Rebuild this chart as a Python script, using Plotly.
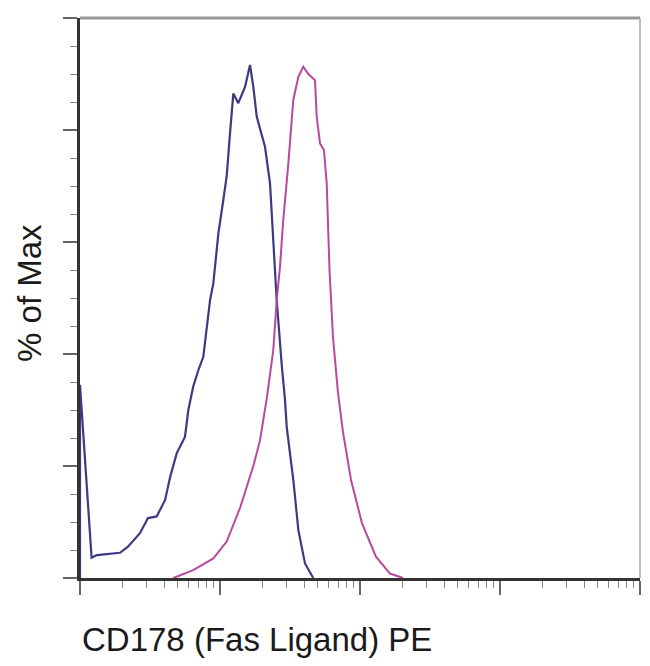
import plotly.graph_objects as go

# Blue (isotype / control) histogram: fluorescence intensity vs % of max
blue_x = [10, 10, 12.1, 13.2, 19.3, 22.0, 26.8, 30.6, 35.3, 40.5, 44.0, 49.1, 56.2, 59.4,
          64.4, 70.0, 76.0, 80.4, 84.9, 89.6, 97.3, 105.6, 111.6, 117.9, 124.5, 135.1,
          150.9, 163.8, 173.0, 182.9, 193.1, 209.6, 227.6, 233.9, 254.1, 276.1, 291.3,
          299.5, 334.0, 362.6, 404.6, 463.5]
blue_y = [0, 34.5, 3.6, 4.1, 4.5, 5.6, 8.0, 10.7, 11.0, 13.9, 18.0, 22.3, 25.2, 30.0,
          34.2, 37.1, 39.5, 44.9, 49.6, 52.6, 61.5, 67.5, 71.7, 79.4, 86.5, 84.8,
          87.7, 91.6, 87.7, 82.4, 80.3, 77.0, 70.5, 65.7, 49.6, 38.0, 31.8,
          27.0, 17.5, 8.6, 2.6, 0]

# Magenta (CD178 stained) histogram
mag_x = [46.4, 64.4, 89.6, 111.6, 139.0, 173.0, 193.1, 215.6, 240.2, 254.1, 268.3,
         283.2, 307.6, 334.0, 362.6, 393.7, 427.3, 477.1, 490.6, 517.9, 553.1, 578.2,
         605.6, 641.3, 696.6, 756.4, 862.7, 1033, 1300, 1638, 2029]
mag_y = [0, 1.4, 3.5, 6.5, 12.5, 20.0, 24.6, 32.0, 40.7, 49.6, 55.6,
         64.0, 74.0, 85.4, 89.5, 91.3, 90.0, 88.9, 82.4, 77.6, 76.4, 70.5,
         55.0, 43.0, 33.0, 26.0, 17.5, 9.8, 3.8, 0.8, 0]

x_major = [10, 100, 1000, 10000, 100000]
x_minor = [m * d for d in [10, 100, 1000, 10000] for m in range(2, 10)]
y_major = [0, 20, 40, 60, 80, 100]

fig = go.Figure()
fig.add_trace(go.Scatter(x=blue_x, y=blue_y, mode="lines",
                         line=dict(color="#3b3a82", width=2.2), showlegend=False))
fig.add_trace(go.Scatter(x=mag_x, y=mag_y, mode="lines",
                         line=dict(color="#b9489f", width=2), showlegend=False))

fig.update_layout(
    width=634, height=650,
    margin=dict(l=72, r=2, t=10, b=80),
    paper_bgcolor="white", plot_bgcolor="white",
    xaxis=dict(type="log", range=[1, 5], showgrid=False, zeroline=False,
               showline=True, linecolor="#333333", linewidth=3,
               tickvals=x_major, ticks="outside", ticklen=14, tickwidth=1.5,
               tickcolor="#666666", showticklabels=False,
               minor=dict(tickmode="array", tickvals=x_minor, ticks="outside",
                          ticklen=7, tickwidth=1.2, tickcolor="#888888", showgrid=False)),
    yaxis=dict(range=[0, 100], showgrid=False, zeroline=False,
               showline=True, linecolor="#333333", linewidth=3,
               tickvals=y_major, ticks="outside", ticklen=14, tickwidth=1.5,
               tickcolor="#666666", showticklabels=False,
               minor=dict(dtick=5, ticks="outside", ticklen=7, tickwidth=1.2,
                          tickcolor="#888888", showgrid=False)),
    shapes=[
        dict(type="line", xref="paper", yref="paper", x0=0, x1=1, y0=1, y1=1,
             line=dict(color="#9a9a9a", width=3)),
        dict(type="line", xref="paper", yref="paper", x0=1, x1=1, y0=0, y1=1,
             line=dict(color="#a8a8a8", width=1.5)),
    ],
    annotations=[
        dict(text="CD178 (Fas Ligand) PE", xref="paper", yref="paper",
             x=0.0, y=-0.1107, xanchor="left", yanchor="middle", showarrow=False,
             font=dict(family="Liberation Sans, Arial, sans-serif", size=33, color="#1a1a1a")),
        dict(text="% of Max", xref="paper", yref="paper", textangle=-90,
             x=-0.0893, y=0.509, xanchor="center", yanchor="middle", showarrow=False,
             font=dict(family="Liberation Sans, Arial, sans-serif", size=33, color="#1a1a1a")),
    ],
)

fig.write_html("out.html")
